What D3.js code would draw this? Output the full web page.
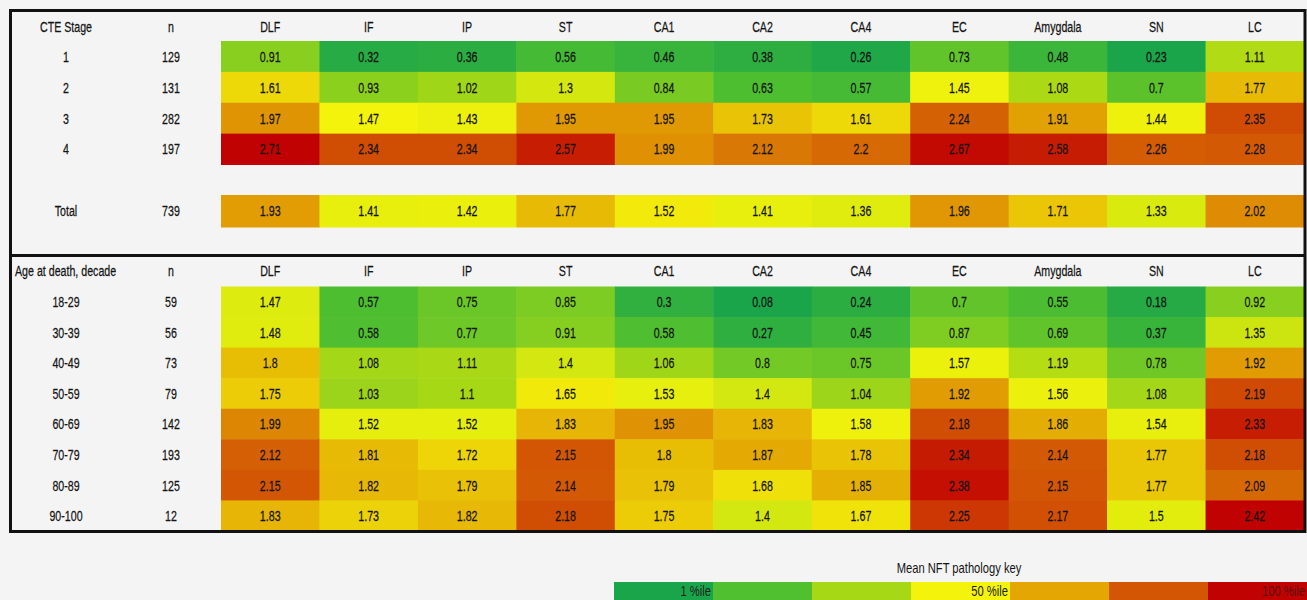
<!DOCTYPE html>
<html>
<head>
<meta charset="utf-8">
<script src="https://cdn.jsdelivr.net/npm/d3@7"></script>
<style>
  html, body { margin:0; padding:0; background:#f4f4f4; }
  svg { display:block; }
  text { font-family:"Liberation Sans",Arial,sans-serif; fill:#141414; }
</style>
</head>
<body>
<svg width="1307" height="600"></svg>
<script>
var width = 1307, height = 600;

// regions (columns)
var regions = ["DLF","IF","IP","ST","CA1","CA2","CA4","EC","Amygdala","SN","LC"];

// section 1: CTE stage
var stages = ["1","2","3","4"];
var stageN = [129,131,282,197];
var stageVals = [
  [0.91,0.32,0.36,0.56,0.46,0.38,0.26,0.73,0.48,0.23,1.11],
  [1.61,0.93,1.02,1.3,0.84,0.63,0.57,1.45,1.08,0.7,1.77],
  [1.97,1.47,1.43,1.95,1.95,1.73,1.61,2.24,1.91,1.44,2.35],
  [2.71,2.34,2.34,2.57,1.99,2.12,2.2,2.67,2.58,2.26,2.28]
];
var totalN = 739;
var totalVals = [1.93,1.41,1.42,1.77,1.52,1.41,1.36,1.96,1.71,1.33,2.02];

// section 2: age at death
var ages = ["18-29","30-39","40-49","50-59","60-69","70-79","80-89","90-100"];
var ageN = [59,56,73,79,142,193,125,12];
var ageVals = [
  [1.47,0.57,0.75,0.85,0.3,0.08,0.24,0.7,0.55,0.18,0.92],
  [1.48,0.58,0.77,0.91,0.58,0.27,0.45,0.87,0.69,0.37,1.35],
  [1.8,1.08,1.11,1.4,1.06,0.8,0.75,1.57,1.19,0.78,1.92],
  [1.75,1.03,1.1,1.65,1.53,1.4,1.04,1.92,1.56,1.08,2.19],
  [1.99,1.52,1.52,1.83,1.95,1.83,1.58,2.18,1.86,1.54,2.33],
  [2.12,1.81,1.72,2.15,1.8,1.87,1.78,2.34,2.14,1.77,2.18],
  [2.15,1.82,1.79,2.14,1.79,1.68,1.85,2.38,2.15,1.77,2.09],
  [1.83,1.73,1.82,2.18,1.75,1.4,1.67,2.25,2.17,1.5,2.42]
];

// key
var keyColors = ["#1ba54a","#50bf30","#a7d816","#f3f30b","#e3a603","#d25604","#c10202"];
var keyLabels = ["1 %ile","","","50 %ile","","","100 %ile"];

var svg = d3.select("svg");

var x = d3.scaleBand().domain(regions).range([221,1304]);
var labelX = 66, nX = 171;
var narrow = 0.71; // condensed look

// percentile colour scale (min / median / max), one per section
function pctScale(values){
  var lo = d3.min(values), md = d3.median(values), hi = d3.max(values);
  var dom = [lo, lo+(md-lo)/3, lo+2*(md-lo)/3, md, md+(hi-md)/3, md+2*(hi-md)/3, hi];
  return d3.scaleLinear().domain(dom).range(keyColors).interpolate(d3.interpolateRgb).clamp(true);
}

// condensed text at (px,py)
function ntext(g, px, py, str, anchor){
  return g.append("text")
    .attr("transform","translate("+px+","+py+") scale("+narrow+",1)")
    .attr("dy","0.36em")
    .attr("text-anchor", anchor || "middle")
    .style("font-size","15px")
    .style("stroke","#141414").style("stroke-width","0.25px")
    .text(str);
}

function drawRows(g, rowLabels, ns, vals, y, color){
  rowLabels.forEach(function(lab,i){
    var row = g.append("g");
    var yc = y(lab) + y.bandwidth()/2;
    row.selectAll("rect").data(vals[i]).enter().append("rect")
      .attr("x", function(d,j){ return x(regions[j]); })
      .attr("y", y(lab))
      .attr("width", x.bandwidth()+0.5)
      .attr("height", y.bandwidth()+0.5)
      .attr("fill", function(d){ return color(d); });
    vals[i].forEach(function(d,j){
      ntext(row, x(regions[j]) + x.bandwidth()/2, yc, String(d));
    });
    ntext(row, labelX, yc, lab);
    ntext(row, nX, yc, ns[i]);
  });
}

function header(g, yc, firstLabel, leftAlign){
  ntext(g, leftAlign ? 15 : labelX, yc, firstLabel, leftAlign ? "start" : "middle");
  ntext(g, nX, yc, "n");
  regions.forEach(function(d){ ntext(g, x(d)+x.bandwidth()/2, yc, d); });
}

// ---- section 1 (CTE stage)
var gStage = svg.append("g");
var allStage = d3.merge(stageVals).concat(totalVals);
var colorStage = pctScale(allStage);
header(gStage, 27, "CTE Stage", false);
var yStage = d3.scaleBand().domain(stages).range([41,164.5]);
drawRows(gStage, stages, stageN, stageVals, yStage, colorStage);
var yTot = d3.scaleBand().domain(["Total"]).range([195,227]);
drawRows(gStage, ["Total"], [totalN], [totalVals], yTot, colorStage);

// ---- section 2 (age)
var gAge = svg.append("g");
var colorAge = pctScale(d3.merge(ageVals));
header(gAge, 271, "Age at death, decade", true);
var yAge = d3.scaleBand().domain(ages).range([286.5,531]);
drawRows(gAge, ages, ageN, ageVals, yAge, colorAge);

// borders
svg.append("rect").attr("x",10.5).attr("y",10.5).attr("width",1294.5).attr("height",521)
  .attr("fill","none").attr("stroke","#111").attr("stroke-width",3);
svg.append("line").attr("x1",10.5).attr("x2",1305).attr("y1",255.5).attr("y2",255.5)
  .attr("stroke","#111").attr("stroke-width",3);

// ---- key
var xk = d3.scaleBand().domain(d3.range(keyColors.length)).range([614,1307]);
var key = svg.append("g");
key.selectAll("rect").data(keyColors).enter().append("rect")
  .attr("x", function(d,i){ return xk(i); }).attr("y",582)
  .attr("width", xk.bandwidth()+0.5).attr("height",18)
  .attr("fill", function(d){ return d; });
key.selectAll("text.k").data(keyLabels).enter().append("text").attr("class","k")
  .attr("transform", function(d,i){ return "translate("+(xk(i)+xk.bandwidth()-2)+",596) scale(0.8,1)"; })
  .attr("text-anchor","end")
  .style("font-size","14px")
  .style("fill", function(d,i){ return i==6 ? "#5a1010" : "#1e1e1e"; })
  .text(function(d){ return d; });
key.append("text").attr("transform","translate(959,573) scale(0.8,1)").attr("text-anchor","middle")
  .style("font-size","14px")
  .text("Mean NFT pathology key");
</script>
</body>
</html>
